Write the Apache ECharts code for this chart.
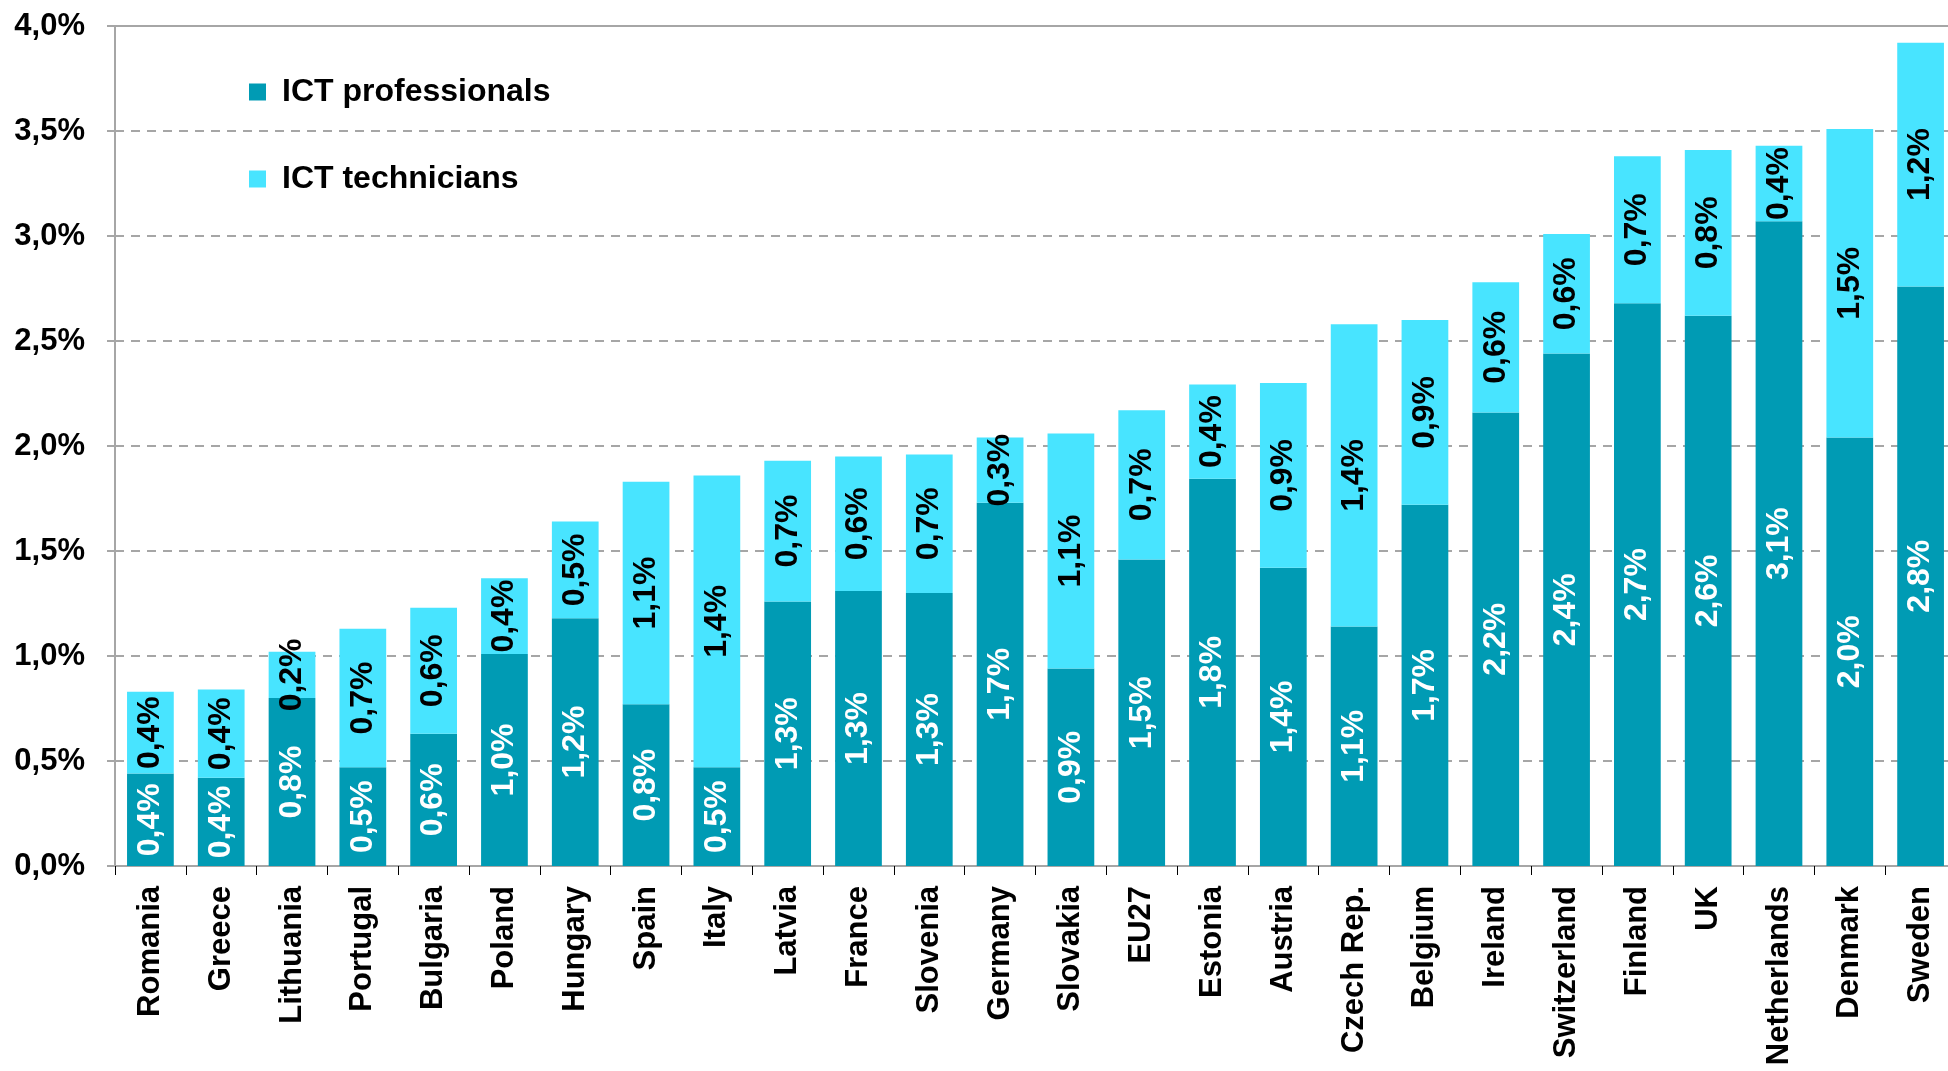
<!DOCTYPE html>
<html>
<head>
<meta charset="utf-8">
<script src="https://cdn.jsdelivr.net/npm/echarts@6/dist/echarts.min.js"></script>
<style>
html,body{margin:0;padding:0;background:#fff;}
#chart{width:1948px;height:1071px;}
</style>
</head>
<body>
<div id="chart"></div>
<script>
const categories = ["Romania","Greece","Lithuania","Portugal","Bulgaria","Poland","Hungary","Spain","Italy","Latvia","France","Slovenia","Germany","Slovakia","EU27","Estonia","Austria","Czech Rep.","Belgium","Ireland","Switzerland","Finland","UK","Netherlands","Denmark","Sweden"];
const ictProfessionals = [0.44,0.42,0.80,0.47,0.63,1.01,1.18,0.77,0.47,1.26,1.31,1.30,1.73,0.94,1.46,1.844,1.42,1.14,1.72,2.16,2.44,2.68,2.62,3.07,2.04,2.76];
const ictTechnicians   = [0.39,0.42,0.22,0.66,0.60,0.36,0.46,1.06,1.39,0.67,0.64,0.66,0.31,1.12,0.71,0.449,0.88,1.44,0.88,0.62,0.57,0.70,0.79,0.36,1.47,1.16];
const yTicks = [0,0.5,1,1.5,2,2.5,3,3.5,4];

const FONT = '"Liberation Sans", Arial, sans-serif';
const fmt = v => v.toFixed(1).replace('.', ',') + '%';

const chart = echarts.init(document.getElementById('chart'));
chart.setOption({
  animation: false,
  backgroundColor: '#fff',
  textStyle: { fontFamily: FONT },
  grid: { left: 115, top: 26, bottom: 205, width: 1841, show: true, borderColor: '#A6A6A6', borderWidth: 2, containLabel: false, outerBoundsMode: 'none' },
  legend: {
    orient: 'vertical', left: 244, top: 71,
    itemWidth: 17, itemHeight: 17, itemGap: 55,
    icon: 'rect',
    textStyle: { fontSize: 32, fontWeight: 'bold', color: '#000', fontFamily: FONT, padding: [0,0,0,11] },
    data: ['ICT professionals', 'ICT technicians']
  },
  xAxis: {
    type: 'category', data: categories,
    axisLine: { lineStyle: { color: '#A6A6A6', width: 2 } },
    axisTick: { show: true, length: 9, lineStyle: { color: '#000', width: 1 } },
    axisLabel: { rotate: 90, margin: 20, fontSize: 31, fontWeight: 'bold', color: '#000', fontFamily: FONT, interval: 0 }
  },
  yAxis: {
    type: 'value', min: 0, max: 4, interval: 0.5,
    axisLine: { show: true, lineStyle: { color: '#A6A6A6', width: 2 } },
    axisTick: { show: true, length: 8, lineStyle: { color: '#A6A6A6', width: 2 } },
    splitLine: { show: true, lineStyle: { color: '#A6A6A6', width: 2, type: [9, 7] } },
    axisLabel: { margin: 30, fontSize: 31, fontWeight: 'bold', color: '#000', fontFamily: FONT, formatter: v => fmt(v) }
  },
  series: [
    {
      name: 'ICT professionals', type: 'bar', stack: 'ict', data: ictProfessionals,
      barCategoryGap: '34%',
      itemStyle: { color: '#009BB4' },
      label: { show: true, position: 'inside', rotate: 90, fontSize: 32, fontWeight: 'bold', color: '#fff', fontFamily: FONT, formatter: p => fmt(p.value) }
    },
    {
      name: 'ICT technicians', type: 'bar', stack: 'ict', data: ictTechnicians,
      barCategoryGap: '34%',
      itemStyle: { color: '#48E4FF' },
      label: { show: true, position: 'inside', rotate: 90, fontSize: 32, fontWeight: 'bold', color: '#000', fontFamily: FONT, formatter: p => fmt(p.value) }
    }
  ]
});
</script>
</body>
</html>
